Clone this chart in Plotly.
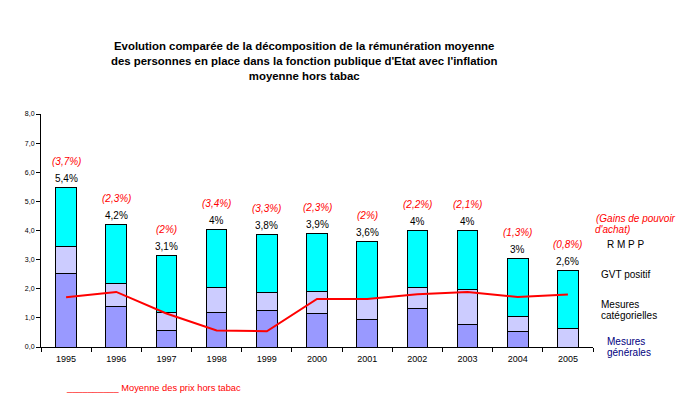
import plotly.graph_objects as go

years = ["1995", "1996", "1997", "1998", "1999", "2000", "2001", "2002", "2003", "2004", "2005"]
mesures_generales = [2.52, 1.39, 0.57, 1.18, 1.25, 1.16, 0.94, 1.32, 0.78, 0.53, 0.0]
mesures_categorielles = [0.94, 0.79, 0.61, 0.87, 0.63, 0.76, 0.71, 0.73, 1.19, 0.53, 0.63]
gvt_positif = [2.02, 2.03, 1.97, 1.99, 1.98, 1.99, 1.98, 1.95, 2.03, 1.98, 2.00]
inflation = [1.71, 1.89, 1.15, 0.57, 0.54, 1.65, 1.65, 1.81, 1.89, 1.72, 1.80]
total_labels = ["5,4%", "4,2%", "3,1%", "4%", "3,8%", "3,9%", "3,6%", "4%", "4%", "3%", "2,6%"]
gain_labels = ["(3,7%)", "(2,3%)", "(2%)", "(3,4%)", "(3,3%)", "(2,3%)", "(2%)", "(2,2%)", "(2,1%)", "(1,3%)", "(0,8%)"]

FONT = "Liberation Sans, Arial, sans-serif"
line_style = dict(color="black", width=1)

fig = go.Figure()
fig.add_trace(go.Bar(x=years, y=mesures_generales, marker=dict(color="#9999FF", line=line_style), name="Mesures générales"))
fig.add_trace(go.Bar(x=years, y=mesures_categorielles, marker=dict(color="#CCCCFF", line=line_style), name="Mesures catégorielles"))
fig.add_trace(go.Bar(x=years, y=gvt_positif, marker=dict(color="#00FFFF", line=line_style), name="GVT positif"))
fig.add_trace(go.Scatter(x=years, y=inflation, mode="lines", line=dict(color="#FF0000", width=2), name="Moyenne des prix hors tabac"))

annotations = []
for i, yr in enumerate(years):
    tot = mesures_generales[i] + mesures_categorielles[i] + gvt_positif[i]
    annotations.append(dict(x=i, y=tot, text=total_labels[i], showarrow=False, yshift=9,
                            font=dict(family=FONT, size=10, color="black"), xref="x", yref="y"))
    annotations.append(dict(x=i, y=tot, text=f"<i>{gain_labels[i]}</i>", showarrow=False, yshift=26,
                            font=dict(family=FONT, size=10, color="#FF0000"), xref="x", yref="y"))

def side(text, x, y, color="black", italic=False):
    t = f"<i>{text}</i>" if italic else text
    annotations.append(dict(x=x, y=y, xref="paper", yref="paper", xanchor="left", yanchor="middle",
                            text=t, showarrow=False, align="left",
                            font=dict(family=FONT, size=10, color=color)))

# paper coords: plot area (page pixels) x 41..593 (552px), y 114..347 (233px)
def px(xp):
    return (xp - 41) / 552.0
def py(yp):
    return (347 - yp) / 233.0

side("(Gains de pouvoir", px(594), py(218), "#FF0000", True)
side("d'achat)", px(593), py(229), "#FF0000", True)
side("R M P P", px(605), py(244.5))
side("GVT positif", px(599), py(274))
side("Mesures", px(599), py(304))
side("catégorielles", px(599), py(315))
side("Mesures", px(605), py(341), "#000080")
side("générales", px(605), py(352), "#000080")

annotations.append(dict(x=px(64), y=py(387.5), xref="paper", yref="paper", xanchor="left", yanchor="middle",
                        text="__________ Moyenne des prix hors tabac", showarrow=False,
                        font=dict(family=FONT, size=9.3, color="#FF0000")))

annotations.append(dict(x=px(304), y=py(61), xref="paper", yref="paper", xanchor="center", yanchor="middle",
                        text="<b>Evolution comparée de la décomposition de la rémunération moyenne<br>des personnes en place dans la fonction publique d'Etat avec l'inflation<br>moyenne hors tabac</b>",
                        showarrow=False, align="center",
                        font=dict(family=FONT, size=11.4, color="black")))

# page has an 8px body margin, so the figure is offset by 8px
fig.update_layout(
    width=685, height=388,
    margin=dict(l=33, r=100, t=106, b=49, pad=0),
    barmode="stack", bargap=0.59,
    plot_bgcolor="white", paper_bgcolor="white",
    showlegend=False,
    separators=", ",
    font=dict(family=FONT, color="black"),
    annotations=annotations,
    xaxis=dict(type="category", range=[-0.5, 10.5], showline=True, linecolor="black", linewidth=1, ticks="outside",
               tickson="boundaries", ticklen=4, tickcolor="black", showgrid=False,
               ticklabelstandoff=3, tickfont=dict(size=9, family=FONT)),
    yaxis=dict(range=[0, 8], dtick=1, tickformat=".1f", showline=True, linecolor="black", linewidth=1,
               ticks="outside", ticklen=4, tickcolor="black", showgrid=False, zeroline=False,
               tickfont=dict(size=7, family=FONT)),
)

fig.write_html("out.html")
